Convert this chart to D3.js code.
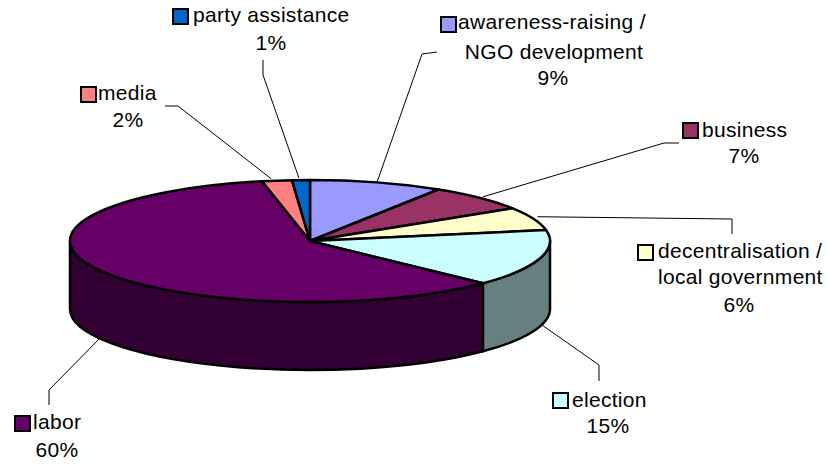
<!DOCTYPE html>
<html>
<head>
<meta charset="utf-8">
<script src="https://cdn.jsdelivr.net/npm/d3@7/dist/d3.min.js"></script>
<style>
html,body{margin:0;padding:0;background:#fff}
text{font-family:"Liberation Sans",Arial,sans-serif;font-size:21px;fill:#000;letter-spacing:.3px}
</style>
</head>
<body>
<svg id="c" width="828" height="465"></svg>
<script>
// Data, clockwise from twelve o'clock
const categories = ["awareness-raising / NGO development","business","decentralisation / local government","election","labor","media","party assistance"];
const shares = [9.0,7.0,6.1,15.1,59.6,2.0,1.2];
const percentLabels = ["9%","7%","6%","15%","60%","2%","1%"];
const topColors = ["#9999ff","#993366","#ffffcc","#ccffff","#660066","#ff8080","#0066cc"];
const sideColors = ["#666699","#662244","#999980","#668080","#330033","#aa5555","#004488"];

// Layout of the labels and their leaders, separate from the data
const labelLayout = [
 {key:[441,17],lines:[["awareness-raising /",458,29,"start"],["NGO development",554,59,"middle"],["9%",553,85,"middle"]],leader:[[422,54],[437,52]],start:[0,0]},
 {key:[683,123],lines:[["business",702,137,"start"],["7%",744,163,"middle"]],leader:[[664,143],[679,143]],start:[3,-1]},
 {key:[638,245],lines:[["decentralisation /",658,258,"start"],["local government",658,284,"start"],["6%",739,312,"middle"]],leader:[[732,219],[732,234]],start:[4,-2]},
 {key:[553,393],lines:[["election",572,407,"start"],["15%",608,433,"middle"]],leader:[[599,365],[599,381]],start:[3,-1]},
 {key:[15,416],lines:[["labor",33,429,"start"],["60%",57,457,"middle"]],leader:[[49,390],[49,405]],start:[0,0]},
 {key:[81,87],lines:[["media",98,100,"start"],["2%",128,127,"middle"]],leader:[[178,106],[165,106]],start:[-6,-2]},
 {key:[173,9],lines:[["party assistance",193,22,"start"],["1%",271,50,"middle"]],leader:[[263,75],[263,60]],start:[-2,-2]}
];

const cx=310, cy=241, rx=240, ry=61, depth=68;
const svg=d3.select("#c");
const squash=ry/rx, depthU=depth/squash;
const arcs=d3.pie().sort(null).value(d=>d).startAngle(0).endAngle(2*Math.PI)(shares);
const plot=svg.append("g").attr("transform",`translate(${cx},${cy}) scale(1,${squash})`);
const arcGen=d3.arc().innerRadius(0).outerRadius(rx);

// Rim: only the front half of the ellipse is visible
const rim=d=>{
  const lo=Math.max(d.startAngle,Math.PI/2), hi=Math.min(d.endAngle,3*Math.PI/2);
  if(hi<=lo) return null;
  const p=d3.path(), o=-Math.PI/2;
  p.arc(0,0,rx,lo+o,hi+o,false);
  p.lineTo(rx*Math.cos(hi+o),rx*Math.sin(hi+o)+depthU);
  p.arc(0,depthU,rx,hi+o,lo+o,true);
  p.closePath();
  return p.toString();
};
plot.selectAll("path.side").data(arcs.filter(rim)).join("path").attr("class","side")
  .attr("d",rim).attr("fill",d=>sideColors[d.index]).attr("stroke","#000")
  .attr("stroke-width",2.5).attr("stroke-linejoin","round").attr("vector-effect","non-scaling-stroke");
plot.selectAll("path.top").data(arcs).join("path").attr("class","top")
  .attr("d",arcGen).attr("fill",d=>topColors[d.index]).attr("stroke","#000")
  .attr("stroke-width",2.5).attr("stroke-linejoin","round").attr("vector-effect","non-scaling-stroke");

// Leaders start at the middle of each slice's outer edge
const line=d3.line();
arcs.forEach((d,i)=>{
  const m=(d.startAngle+d.endAngle)/2, L=labelLayout[i];
  const front=i>=3 && i<=4;
  const s=[cx+rx*Math.sin(m)+L.start[0], cy-ry*Math.cos(m)+(front?depth:0)+L.start[1]];
  svg.append("path").attr("d",line([s,...L.leader])).attr("fill","none")
    .attr("stroke","#000").attr("stroke-width",1);
});

// Labels
const labels=svg.selectAll("g.label").data(labelLayout).join("g").attr("class","label");
labels.append("rect").attr("x",d=>d.key[0]).attr("y",d=>d.key[1]).attr("width",15).attr("height",15)
  .attr("fill",(d,i)=>topColors[i]).attr("stroke","#000").attr("stroke-width",2);
labels.selectAll("text").data(d=>d.lines).join("text")
  .attr("x",d=>d[1]).attr("y",d=>d[2]).attr("text-anchor",d=>d[3]).text(d=>d[0]);
</script>
</body>
</html>
